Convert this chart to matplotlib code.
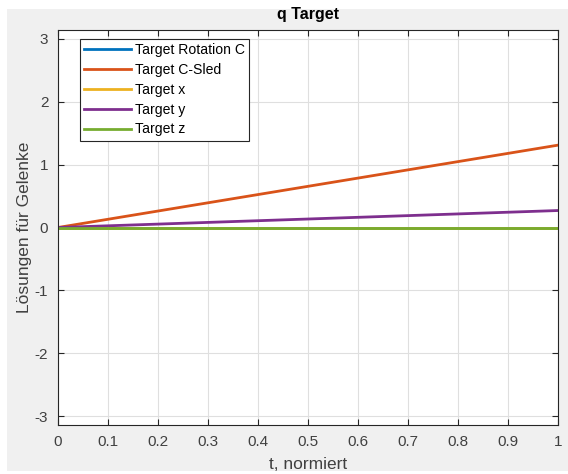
import matplotlib
matplotlib.use('Agg')
import matplotlib.pyplot as plt
from matplotlib.patches import Rectangle
import numpy as np

plt.rcParams['font.family'] = ['Liberation Sans', 'DejaVu Sans']

# joint solutions over normalised time (linear ramps)
t = [0.0, 1.0]
rotation_c = [0.0, 0.0]
c_sled = [0.0, 1.31]
target_x = [0.0, 0.0]
target_y = [0.0, 0.27]
target_z = [0.0, 0.0]

series = [
    ('Target Rotation C', rotation_c, '#0072BD'),
    ('Target C-Sled', c_sled, '#D95319'),
    ('Target x', target_x, '#EDB120'),
    ('Target y', target_y, '#7E2F8E'),
    ('Target z', target_z, '#77AC30'),
]

W, H = 568, 474
fig = plt.figure(figsize=(W / 100, H / 100), dpi=100, facecolor='white')
# grey figure panel behind the axes
fig.patches.append(Rectangle((7 / W, 3 / H), 1 - 7 / W, 1 - 12 / H,
                             transform=fig.transFigure, facecolor='#F0F0F0',
                             edgecolor='none', zorder=-10))

ax = fig.add_axes([58 / W, 1 - 425 / H, 500 / W, 395 / H])
ax.set_zorder(1)
ax.set_facecolor('white')

for name, vals, col in series:
    ax.plot(t, vals, color=col, linewidth=2, label=name)

ax.set_xlim(0, 1)
ax.set_ylim(-np.pi, np.pi)
ax.set_xticks(np.arange(0, 1.01, 0.1))
ax.set_xticklabels(['0', '0.1', '0.2', '0.3', '0.4', '0.5', '0.6', '0.7', '0.8', '0.9', '1'])
ax.set_yticks([-3, -2, -1, 0, 1, 2, 3])
ax.set_yticklabels(['-3', '-2', '-1', '0', '1', '2', '3'])

ax.grid(True, color='#DFDFDF', linewidth=0.8)
ax.set_axisbelow(True)
ax.tick_params(direction='in', length=4, width=0.8, colors='#262626',
               labelcolor='#404040', labelsize=11, top=True, right=True,
               labeltop=False, labelright=False, pad=7)
for s in ax.spines.values():
    s.set_color('#262626')
    s.set_linewidth(0.8)

ax.set_title('q Target', fontsize=11.5, fontweight='bold', color='black', pad=8)
ax.set_xlabel('t, normiert', fontsize=12.5, color='#404040', labelpad=6)
ax.set_ylabel('Lösungen für Gelenke', fontsize=12.5, color='#404040', labelpad=2)

leg = ax.legend(loc='upper left', bbox_to_anchor=(0.044, 0.978), fontsize=10.1,
                fancybox=False, framealpha=1, edgecolor='#262626',
                handlelength=3.3, handletextpad=0.3, labelspacing=0.42,
                borderpad=0.3, borderaxespad=0)
leg.get_frame().set_linewidth(0.8)

fig.savefig('out.png', dpi=100, facecolor=fig.get_facecolor())
